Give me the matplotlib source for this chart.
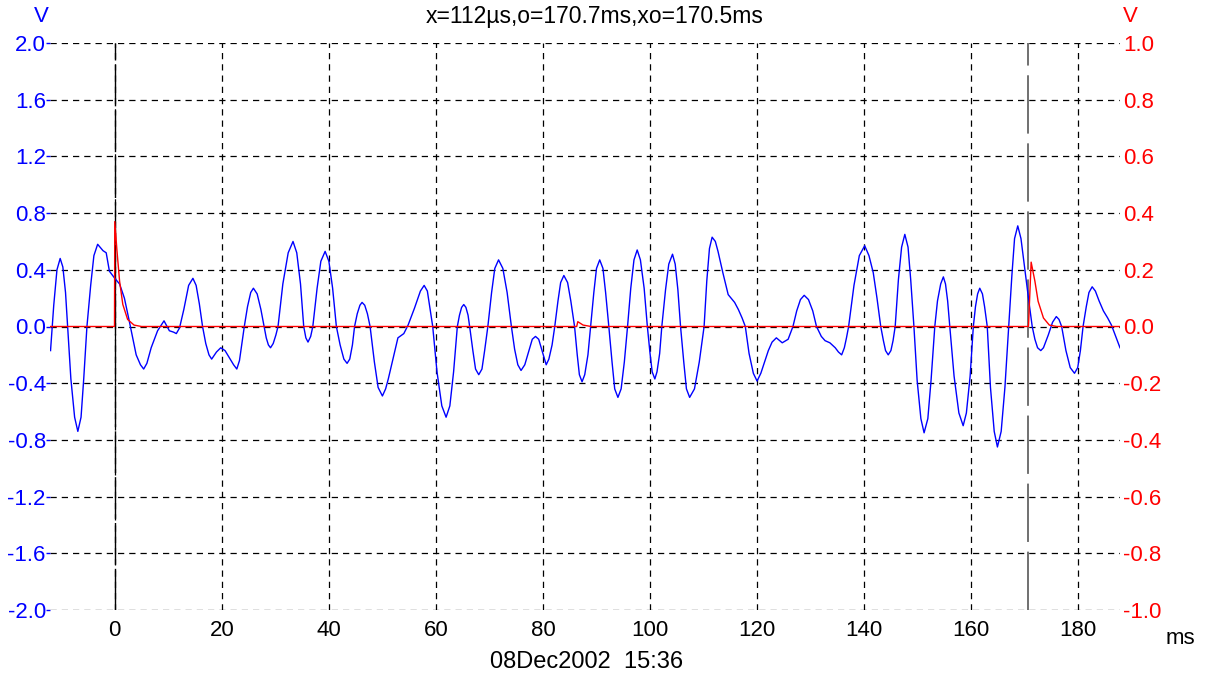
import matplotlib
matplotlib.use("Agg")
import matplotlib.pyplot as plt

plt.rcParams['font.family'] = ['Liberation Sans', 'DejaVu Sans']

# ---- data ----
blue_t = [-12.0, -11.4, -10.8, -10.2, -9.7, -9.2, -8.8, -8.2, -7.5, -6.9, -6.3, -5.8, -5.2, -4.5, -3.9,
          -3.2, -2.2, -1.6, -1.0, 0.0, 0.9, 1.8, 2.7, 4.0, 4.8, 5.4, 6.0, 6.8, 8.0, 9.2, 10.2, 11.0,
          11.5, 12.1, 12.9, 13.8, 14.6, 15.2, 15.8, 16.4, 17.0, 17.6, 18.1, 19.0, 19.8, 20.6, 21.4,
          22.2, 22.8, 23.3, 24.2, 24.8, 25.4, 25.9, 26.6, 27.3, 27.9, 28.3, 28.7, 29.1, 29.6, 30.1,
          30.5, 31.4, 32.4, 33.3, 34.0, 34.7, 35.3, 35.7, 36.1, 36.6, 37.0, 37.8, 38.5, 39.3, 40.0,
          40.7, 41.4, 42.1, 42.8, 43.4, 43.9, 44.4, 44.8, 45.3, 45.8, 46.2, 46.7, 47.2, 47.7, 48.5,
          49.2, 50.0, 50.6, 51.1, 51.6, 52.9, 54.0, 54.8, 56.0, 57.1, 57.8, 58.4, 59.4, 60.2, 61.1,
          61.9, 62.6, 63.3, 64.0, 64.4, 64.8, 65.2, 65.6, 66.0, 66.3, 66.9, 67.4, 68.0, 68.6, 69.1,
          69.7, 70.4, 71.0, 71.7, 72.5, 73.3, 74.1, 74.7, 75.3, 75.9, 76.6, 77.3, 78.0, 78.6, 79.2,
          79.9, 80.6, 81.1, 81.7, 82.2, 82.8, 83.3, 83.9, 84.6, 85.2, 85.9, 86.4, 86.8, 87.3, 87.8,
          88.4, 88.9, 89.5, 90.0, 90.6, 91.2, 91.7, 92.3, 92.9, 93.4, 94.0, 94.6, 95.2, 95.8, 96.4,
          97.0, 97.6, 98.2, 98.9, 99.5, 100.0, 100.4, 100.9, 101.3, 101.8, 102.2, 102.9, 103.5,
          104.2, 104.7, 105.2, 105.7, 106.3, 106.8, 107.4, 108.3, 109.2, 110.1, 110.6, 111.1, 111.6,
          112.2, 112.7, 113.6, 114.6, 115.8, 116.5, 117.2, 117.8, 118.5, 119.3, 120.0, 120.7, 121.4,
          122.1, 122.8, 123.6, 124.7, 125.8, 126.7, 127.4, 128.1, 128.8, 129.6, 130.4, 131.1, 132.0,
          132.7, 133.6, 134.6, 135.2, 135.8, 136.3, 136.7, 137.1, 138.1, 139.1, 140.1, 140.9, 141.7,
          142.4, 143.1, 143.6, 144.0, 144.5, 145.0, 145.4, 145.8, 146.4, 147.0, 147.6, 148.2, 148.7,
          149.3, 149.9, 150.6, 151.2, 151.9, 152.5, 153.2, 153.7, 154.3, 154.8, 155.2, 155.6, 156.0,
          156.8, 157.7, 158.5, 159.1, 159.8, 160.4, 160.8, 161.2, 161.6, 162.1, 162.5, 163.0, 163.6,
          164.3, 164.9, 165.6, 166.3, 167.0, 167.6, 168.1, 168.7, 169.3, 169.8, 170.3, 170.8, 171.4,
          171.9, 172.4, 173.0, 173.5, 174.4, 175.2, 175.9, 176.4, 176.9, 177.7, 178.5, 179.3, 179.9,
          180.4, 180.9, 181.5, 182.0, 182.6, 183.2, 183.9, 184.7, 185.5, 186.2, 187.0, 187.8]
blue_v = [-0.17, 0.15, 0.40, 0.48, 0.42, 0.24, 0.0, -0.37, -0.64, -0.74, -0.64, -0.37, 0.0, 0.29, 0.50,
          0.58, 0.535, 0.52, 0.39, 0.34, 0.30, 0.20, 0.04, -0.20, -0.27, -0.30, -0.26, -0.15, -0.03, 0.04, -0.03, -0.04,
          -0.05, -0.01, 0.12, 0.29, 0.34, 0.29, 0.16, 0.0, -0.12, -0.20, -0.23, -0.18, -0.15, -0.17, -0.22,
          -0.27, -0.30, -0.24, 0.0, 0.14, 0.24, 0.27, 0.23, 0.12, 0.0, -0.08, -0.13, -0.15, -0.12, -0.06,
          0.0, 0.30, 0.52, 0.60, 0.52, 0.30, 0.0, -0.08, -0.11, -0.07, 0.0, 0.27, 0.46, 0.53, 0.46,
          0.27, 0.0, -0.13, -0.23, -0.26, -0.23, -0.13, 0.0, 0.09, 0.15, 0.17, 0.15, 0.09, 0.0, -0.25,
          -0.43, -0.49, -0.44, -0.37, -0.29, -0.08, -0.05, 0.01, 0.13, 0.25, 0.29, 0.25, 0.0, -0.32, -0.56,
          -0.64, -0.56, -0.32, 0.0, 0.08, 0.135, 0.155, 0.135, 0.08, 0.0, -0.17, -0.30, -0.34, -0.30, -0.17,
          0.0, 0.24, 0.41, 0.47, 0.41, 0.24, 0.0, -0.16, -0.27, -0.31, -0.27, -0.18, -0.09, -0.07, -0.09,
          -0.18, -0.27, -0.23, -0.13, 0.0, 0.18, 0.31, 0.36, 0.31, 0.18, 0.0, -0.20, -0.34, -0.39, -0.34,
          -0.20, 0.0, 0.24, 0.41, 0.47, 0.41, 0.24, 0.0, -0.25, -0.44, -0.50, -0.44, -0.25, 0.0, 0.27,
          0.47, 0.54, 0.47, 0.27, 0.0, -0.19, -0.32, -0.37, -0.32, -0.19, 0.0, 0.26, 0.44,
          0.51, 0.44, 0.26, 0.0, -0.25, -0.44, -0.50, -0.44, -0.25, 0.0, 0.32, 0.55, 0.63,
          0.60, 0.53, 0.38, 0.225, 0.17, 0.12, 0.06, 0.0, -0.19, -0.33, -0.385, -0.33, -0.25,
          -0.17, -0.11, -0.08, -0.115, -0.09, 0.0, 0.11, 0.19, 0.22, 0.19, 0.11, 0.0, -0.07,
          -0.10, -0.115, -0.15, -0.18, -0.20, -0.15, -0.08, 0.0, 0.29, 0.50, 0.57, 0.50, 0.38,
          0.20, 0.0, -0.10, -0.17, -0.20, -0.17, -0.10, 0.0, 0.33, 0.56, 0.65, 0.56, 0.33,
          0.0, -0.38, -0.65, -0.75, -0.65, -0.38, 0.0, 0.18, 0.30, 0.35, 0.30, 0.18, 0.0,
          -0.35, -0.61, -0.70, -0.61, -0.35, 0.0, 0.14, 0.23, 0.27, 0.23, 0.14, 0.0, -0.43,
          -0.74, -0.85, -0.74, -0.43, 0.0, 0.36, 0.62, 0.71, 0.62, 0.47, 0.32, 0.17, 0.0,
          -0.09, -0.15, -0.17, -0.15, -0.06, 0.03, 0.07, 0.05, 0.0, -0.17, -0.29, -0.33, -0.29,
          -0.17, 0.0, 0.14, 0.24, 0.28, 0.25, 0.18, 0.11, 0.06, 0.01, -0.07, -0.15]

red_t = [-12.0, -0.05, 0.0, 0.4, 0.9, 1.5, 2.4, 3.6, 5.0, 86.3, 86.5, 87.5, 89.0,
         170.7, 171.2, 171.9, 172.5, 173.5, 174.6, 176.0, 188.0]
red_v = [0.0, 0.0, 0.37, 0.27, 0.16, 0.078, 0.025, 0.005, 0.0, 0.0, 0.017, 0.005, 0.0,
         0.0, 0.227, 0.16, 0.089, 0.03, 0.005, 0.0, 0.0]

x_ticks = [0, 20, 40, 60, 80, 100, 120, 140, 160, 180]
left_ticks = [-2.0, -1.6, -1.2, -0.8, -0.4, 0.0, 0.4, 0.8, 1.2, 1.6, 2.0]
right_ticks = [-1.0, -0.8, -0.6, -0.4, -0.2, 0.0, 0.2, 0.4, 0.6, 0.8, 1.0]
cursor_x = 0.0
cursor_o = 170.7
title = "x=112µs,o=170.7ms,xo=170.5ms"
date_text = "08Dec2002  15:36"

# ---- figure ----
fig = plt.figure(figsize=(12.05, 6.73), dpi=100)
ax = fig.add_axes([50 / 1205, 1 - 610 / 673, 1070 / 1205, 567 / 673])
ax2 = ax.twinx()

ax.set_xlim(-12.1, 187.8)
ax.set_ylim(-2.0, 2.0)
ax2.set_ylim(-1.0, 1.0)

for a in (ax, ax2):
    for s in a.spines.values():
        s.set_visible(False)

ax.set_xticks(x_ticks)
ax.set_xticklabels([str(v) for v in x_ticks])
ax.set_yticks(left_ticks)
ax.set_yticklabels([f"{v:.1f}" for v in left_ticks])
ax2.set_yticks(right_ticks)
ax2.set_yticklabels([f"{v:.1f}" for v in right_ticks])

ax.tick_params(axis='x', length=0, pad=7, labelsize=16, colors='black')
ax.tick_params(axis='y', length=3, width=1, pad=0, labelsize=16, colors='#0000ff')
ax2.tick_params(axis='y', length=0, pad=2, labelsize=16, colors='#ff0000')

# grid
gkw = dict(color='black', lw=0.9, dashes=(5, 4), zorder=1)
for yv in left_ticks:
    ax.axhline(yv, **gkw)
for xv in x_ticks:
    ax.axvline(xv, **gkw)

# cursors
ax.axvline(cursor_x, color='black', lw=1.0, dashes=(30, 3), zorder=2)
ax.axvline(cursor_o, color='#707070', lw=1.4, dashes=(30, 5), zorder=2)

ax.plot(blue_t, blue_v, color='#0000ff', lw=1.0, zorder=4)
ax2.plot(red_t, red_v, color='#ff0000', lw=1.0, zorder=5)
ax2.set_zorder(ax.get_zorder() + 1)
ax2.patch.set_visible(False)

fig.text(595 / 1205, 1 - 17 / 673, title, ha='center', va='center', fontsize=16.5, color='black')
fig.text(41 / 1205, 1 - 17 / 673, "V", ha='center', va='center', fontsize=16, color='#0000ff')
fig.text(1130 / 1205, 1 - 17 / 673, "V", ha='center', va='center', fontsize=16, color='#ff0000')
fig.text(1180 / 1205, 1 - 639 / 673, "ms", ha='center', va='center', fontsize=16, color='black')
fig.text(587 / 1205, 1 - 662 / 673, date_text, ha='center', va='center', fontsize=17, color='black')

fig.savefig("out.png", dpi=100)
